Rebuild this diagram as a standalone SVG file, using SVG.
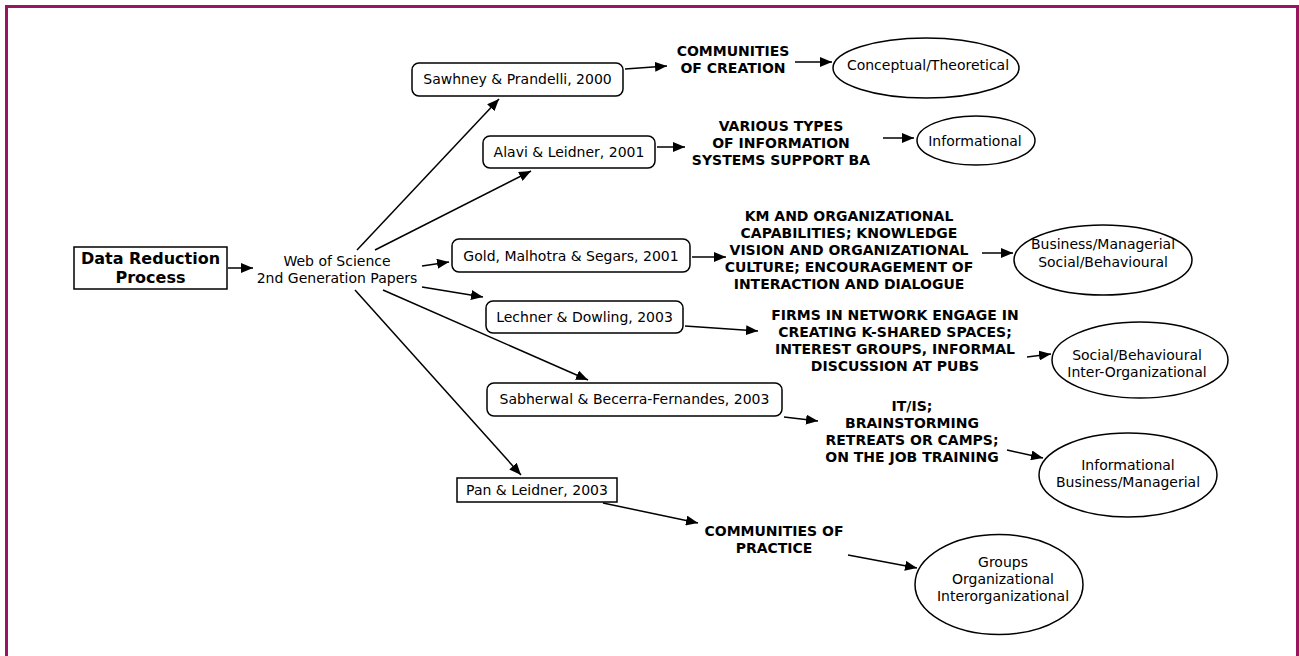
<svg xmlns="http://www.w3.org/2000/svg" width="1299" height="656" viewBox="0 0 1299 656">
  <style>
    text { font-family: "DejaVu Sans", Verdana, sans-serif; fill: #000; text-anchor: middle; }
    .t { font-size: 14px; }
    .b { font-size: 14px; font-weight: bold; }
    .h { font-size: 16px; font-weight: bold; }
    .box { fill: #fff; stroke: #000; stroke-width: 1.5; }
    .oval { fill: #fff; stroke: #000; stroke-width: 1.5; }
    .edge { fill: none; stroke: #000; stroke-width: 1.5; marker-end: url(#head); }
  </style>
  <defs>
    <marker id="head" markerUnits="userSpaceOnUse" markerWidth="12" markerHeight="10" refX="12" refY="5" orient="auto">
      <path d="M0,0 L12,5 L0,10 Z" fill="#000"/>
    </marker>
  </defs>

  <rect width="1299" height="656" fill="#fff"/>
  <!-- page frame: open at the bottom -->
  <path d="M6.5,656 V6.5 H1297.5 V656" fill="none" stroke="#9A1460" stroke-width="3"/>

  <g id="connectors">
    <line class="edge" x1="228" y1="268" x2="253" y2="268"/>
    <line class="edge" x1="357" y1="250" x2="499" y2="99"/>
    <line class="edge" x1="375" y1="250" x2="531" y2="171"/>
    <line class="edge" x1="422" y1="266" x2="449" y2="262"/>
    <line class="edge" x1="422" y1="287" x2="483" y2="297"/>
    <line class="edge" x1="383" y1="290" x2="588" y2="380"/>
    <line class="edge" x1="355" y1="290" x2="521" y2="475"/>

    <line class="edge" x1="625" y1="69" x2="667" y2="66"/>
    <line class="edge" x1="795" y1="62" x2="832" y2="62"/>

    <line class="edge" x1="657" y1="147" x2="685" y2="147"/>
    <line class="edge" x1="883" y1="138" x2="914" y2="138"/>

    <line class="edge" x1="692" y1="257" x2="726" y2="257"/>
    <line class="edge" x1="982" y1="253" x2="1013" y2="253"/>

    <line class="edge" x1="685" y1="326" x2="758" y2="331"/>
    <line class="edge" x1="1027" y1="357" x2="1051" y2="354"/>

    <line class="edge" x1="784" y1="417" x2="818" y2="421"/>
    <line class="edge" x1="1007" y1="450" x2="1043" y2="458"/>

    <line class="edge" x1="603" y1="503" x2="698" y2="523"/>
    <line class="edge" x1="848" y1="555" x2="917" y2="568"/>
  </g>

  <g id="data-reduction">
    <rect class="box" x="74" y="247" width="153" height="42"/>
    <text class="h" x="150.5" y="264">Data Reduction</text>
    <text class="h" x="150.5" y="283">Process</text>
  </g>

  <g id="web-of-science">
    <text class="t" x="337" y="266">Web of Science</text>
    <text class="t" x="337" y="283">2nd Generation Papers</text>
  </g>

  <g id="sawhney">
    <rect class="box" x="412" y="63" width="211" height="33" rx="7"/>
    <text class="t" x="517.5" y="84">Sawhney &amp; Prandelli, 2000</text>
  </g>

  <g id="alavi">
    <rect class="box" x="483" y="136" width="172" height="32" rx="7"/>
    <text class="t" x="569" y="157">Alavi &amp; Leidner, 2001</text>
  </g>

  <g id="gold">
    <rect class="box" x="452" y="239" width="238" height="33" rx="7"/>
    <text class="t" x="571" y="261">Gold, Malhotra &amp; Segars, 2001</text>
  </g>

  <g id="lechner">
    <rect class="box" x="486" y="301" width="197" height="32" rx="7"/>
    <text class="t" x="584.5" y="322">Lechner &amp; Dowling, 2003</text>
  </g>

  <g id="sabherwal">
    <rect class="box" x="487" y="383" width="295" height="33" rx="7"/>
    <text class="t" x="634.5" y="404">Sabherwal &amp; Becerra-Fernandes, 2003</text>
  </g>

  <g id="pan">
    <rect class="box" x="457" y="478" width="160" height="24"/>
    <text class="t" x="537" y="495">Pan &amp; Leidner, 2003</text>
  </g>

  <g id="communities-of-creation">
    <text class="b" x="733" y="56">COMMUNITIES</text>
    <text class="b" x="733" y="73">OF CREATION</text>
  </g>

  <g id="is-support-ba">
    <text class="b" x="781" y="131">VARIOUS TYPES</text>
    <text class="b" x="781" y="148">OF INFORMATION</text>
    <text class="b" x="781" y="165">SYSTEMS SUPPORT BA</text>
  </g>

  <g id="km-capabilities">
    <text class="b" x="849" y="221">KM AND ORGANIZATIONAL</text>
    <text class="b" x="849" y="238">CAPABILITIES; KNOWLEDGE</text>
    <text class="b" x="849" y="255">VISION AND ORGANIZATIONAL</text>
    <text class="b" x="849" y="272">CULTURE; ENCOURAGEMENT OF</text>
    <text class="b" x="849" y="289">INTERACTION AND DIALOGUE</text>
  </g>

  <g id="k-shared-spaces">
    <text class="b" x="895" y="320">FIRMS IN NETWORK ENGAGE IN</text>
    <text class="b" x="895" y="337">CREATING K-SHARED SPACES;</text>
    <text class="b" x="895" y="354">INTEREST GROUPS, INFORMAL</text>
    <text class="b" x="895" y="371">DISCUSSION AT PUBS</text>
  </g>

  <g id="it-is">
    <text class="b" x="912" y="411">IT/IS;</text>
    <text class="b" x="912" y="428">BRAINSTORMING</text>
    <text class="b" x="912" y="445">RETREATS OR CAMPS;</text>
    <text class="b" x="912" y="462">ON THE JOB TRAINING</text>
  </g>

  <g id="communities-of-practice">
    <text class="b" x="774" y="536">COMMUNITIES OF</text>
    <text class="b" x="774" y="553">PRACTICE</text>
  </g>

  <g id="conceptual">
    <ellipse class="oval" cx="926" cy="68" rx="93" ry="30"/>
    <text class="t" x="928" y="70">Conceptual/Theoretical</text>
  </g>

  <g id="informational">
    <ellipse class="oval" cx="976" cy="140.5" rx="59" ry="24.5"/>
    <text class="t" x="975" y="146">Informational</text>
  </g>

  <g id="business-social">
    <ellipse class="oval" cx="1103" cy="260" rx="89" ry="35"/>
    <text class="t" x="1103" y="249">Business/Managerial</text>
    <text class="t" x="1103" y="267">Social/Behavioural</text>
  </g>

  <g id="social-interorg">
    <ellipse class="oval" cx="1140" cy="360" rx="88" ry="38"/>
    <text class="t" x="1137" y="360">Social/Behavioural</text>
    <text class="t" x="1137" y="377">Inter-Organizational</text>
  </g>

  <g id="informational-business">
    <ellipse class="oval" cx="1128" cy="475" rx="89" ry="42"/>
    <text class="t" x="1128" y="470">Informational</text>
    <text class="t" x="1128" y="487">Business/Managerial</text>
  </g>

  <g id="groups">
    <ellipse class="oval" cx="999" cy="584.5" rx="84" ry="50"/>
    <text class="t" x="1003" y="567">Groups</text>
    <text class="t" x="1003" y="584">Organizational</text>
    <text class="t" x="1003" y="601">Interorganizational</text>
  </g>
</svg>
